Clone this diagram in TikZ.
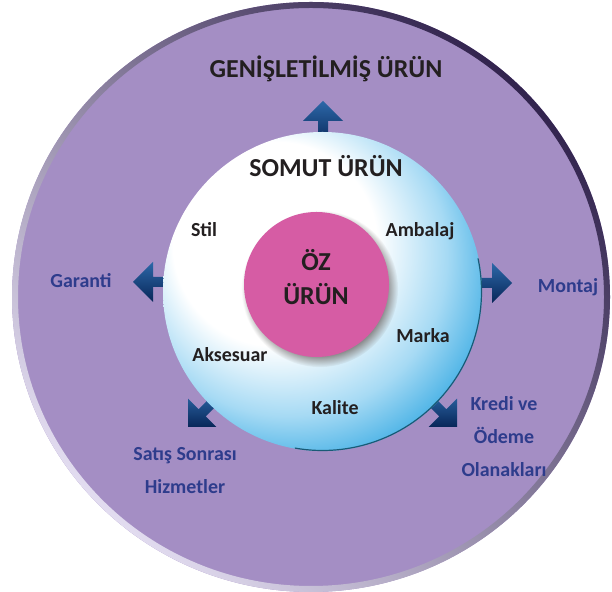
\documentclass[tikz,border=0pt]{standalone}
\usepackage{fontspec}
\setmainfont{Carlito}
\usepackage{xcolor}
\usepackage{tikz}
\usetikzlibrary{shadows,fadings}

\definecolor{mor}{RGB}{164,142,196}
\definecolor{morkoyu}{RGB}{50,36,78}
\definecolor{moracik}{RGB}{226,220,240}
\definecolor{lacivert}{RGB}{46,60,140}
\definecolor{pembe}{RGB}{214,92,164}
\definecolor{camgobegi}{RGB}{36,162,224}
\definecolor{acikmavi}{RGB}{166,218,244}
\definecolor{kenarmavi}{RGB}{26,90,118}
\definecolor{okkoyu}{RGB}{8,38,88}
\definecolor{okacik}{RGB}{44,104,168}
\definecolor{yazi}{RGB}{35,31,32}

\pgfdeclareradialshading{somutgolge}{\pgfpoint{-11bp}{11bp}}{color(0bp)=(white); color(16bp)=(white); color(25bp)=(acikmavi); color(34bp)=(camgobegi); color(50bp)=(camgobegi)}

\tikzset{
  buyuk/.style={font=\fontsize{26}{30}\selectfont\bfseries, text=yazi},
  ic/.style={font=\fontsize{20}{24}\selectfont\bfseries, text=yazi},
  dis/.style={font=\fontsize{20}{33}\selectfont\bfseries, text=lacivert, align=center},
  okgolge/.style={top color=okacik, bottom color=okkoyu}
}

% blue block arrow: tip x, tip y, direction
\newcommand{\yonok}[3]{%
  \shade[okgolge, shift={(#1,#2)}, rotate=#3] (0,0) -- (-20,20) -- (-20,5) -- (-44,5) -- (-44,-5) -- (-20,-5) -- (-20,-20) -- cycle;}

\begin{document}
\begin{tikzpicture}[x=1bp,y=1bp]
\useasboundingbox (0,0) rectangle (612,592);
\clip (0,0) rectangle (612,592);
% outer circle
\fill[mor] (311,295) ellipse [x radius=299, y radius=295];
\shade[even odd rule, top color=morkoyu, middle color=mor, bottom color=moracik, shading angle=-45]
  (311,295) ellipse [x radius=299, y radius=295] (311,295) ellipse [x radius=293, y radius=289];
% arrows
\foreach \x/\y/\a in {323/491/90, 133/310/180, 512/309/0, 188/165/225, 457/165/-45}
  \yonok{\x}{\y}{\a};
% middle circle
\node[circle, minimum size=319bp, inner sep=0, shading=somutgolge] (somut) at (322.5,300.5) {};
\draw[kenarmavi, line width=1.2bp] ([shift={(-100:159)}]somut.center) arc[start angle=-100, end angle=12, radius=159];
% core
\node[circle, minimum size=145bp, inner sep=0, fill=pembe,
  circular drop shadow={shadow xshift=3bp, shadow yshift=-4bp, opacity=.9, shadow scale=1.08}] (oz) at (316.5,307.5) {};
\node[buyuk] (ozust) at (316,332) {ÖZ};
\node[buyuk] (ozalt) at (316,298) {ÜRÜN};
% titles
\node[buyuk] (genis) at (326,523) {GENİŞLETİLMİŞ ÜRÜN};
\node[buyuk] (somutyazi) at (326,426) {SOMUT ÜRÜN};
% inner labels
\node[ic] (stil) at (204,362) {Stil};
\node[ic] (ambalaj) at (420,361) {Ambalaj};
\node[ic] (marka) at (423,256) {Marka};
\node[ic] (aksesuar) at (230,237) {Aksesuar};
\node[ic] (kalite) at (335,184) {Kalite};
% outer labels
\node[dis] (garanti) at (81,311) {Garanti};
\node[dis] (montaj) at (568,305) {Montaj};
\node[dis] (satis) at (185,121.5) {Satış Sonrası\\Hizmetler};
\node[dis] (kredi) at (504,155.5) {Kredi ve\\Ödeme\\Olanakları};
\end{tikzpicture}
\end{document}
